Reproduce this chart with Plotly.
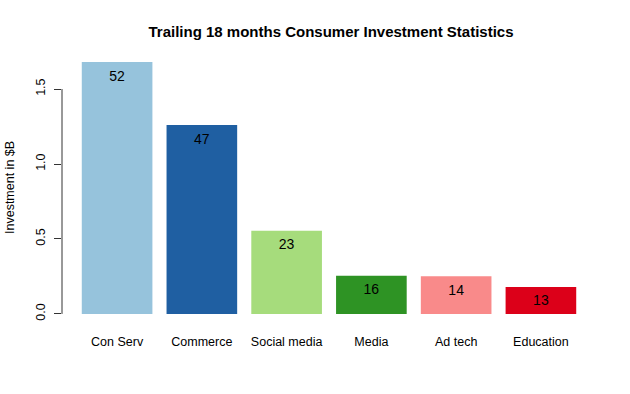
import plotly.graph_objects as go

categories = ["Con Serv", "Commerce", "Social media", "Media", "Ad tech", "Education"]
investment = [1.68, 1.26, 0.555, 0.255, 0.252, 0.18]
deal_counts = [52, 47, 23, 16, 14, 13]
colors = ["#96c3dc", "#1f5fa2", "#a6dc7c", "#2e9324", "#f98a8a", "#dc0019"]
y_ticks = [0, 0.5, 1.0, 1.5]
label_offset = 0.1

FONT = "Liberation Sans, Arial, Helvetica, sans-serif"

fig = go.Figure()
fig.add_trace(go.Bar(
    x=categories, y=investment,
    marker=dict(color=colors, line=dict(width=0)),
    hoverinfo="x+y", showlegend=False,
))
fig.add_trace(go.Scatter(
    x=categories, y=[v - label_offset for v in investment],
    mode="text", text=[str(c) for c in deal_counts],
    textfont=dict(family=FONT, size=14, color="black"),
    textposition="middle center", showlegend=False, hoverinfo="skip",
))

# R-style y axis line spanning only the tick range
fig.add_shape(type="line", xref="paper", yref="y", x0=0, x1=0,
              y0=min(y_ticks), y1=max(y_ticks),
              line=dict(color="#333333", width=1))

fig.add_annotation(text="Investment in $B", xref="paper", yref="paper",
                   x=-52 / 534, y=0.5, xanchor="center", yanchor="middle",
                   textangle=-90, showarrow=False,
                   font=dict(family=FONT, size=12.5, color="black"))

fig.update_layout(
    width=630, height=394,
    margin=dict(l=62, r=34, t=52, b=70),
    paper_bgcolor="white", plot_bgcolor="white",
    bargap=1 - 1 / 1.2,
    title=dict(text="<b>Trailing 18 months Consumer Investment Statistics</b>",
               x=331 / 630, xref="container", xanchor="center",
               y=1 - 32 / 394, yref="container", yanchor="middle",
               font=dict(family=FONT, size=15, color="black")),
    xaxis=dict(type="category", range=[-0.65, 5.65], showgrid=False,
               showline=False, zeroline=False, ticks="outside", ticklen=6,
               tickcolor="rgba(0,0,0,0)",
               tickfont=dict(family=FONT, size=12.5, color="black")),
    yaxis=dict(range=[-0.0672, 1.747], showgrid=False, showline=False,
               zeroline=False, tickvals=y_ticks, tickformat=".1f",
               ticks="outside", ticklen=7, tickcolor="#333333", tickwidth=1,
               tickangle=-90, ticklabelstandoff=4,
               tickfont=dict(family=FONT, size=12.5, color="black")),
)

fig.write_html(
    "out.html",
    config={"displayModeBar": False},
    post_script="document.body.style.margin='0';document.body.style.padding='0';",
)
